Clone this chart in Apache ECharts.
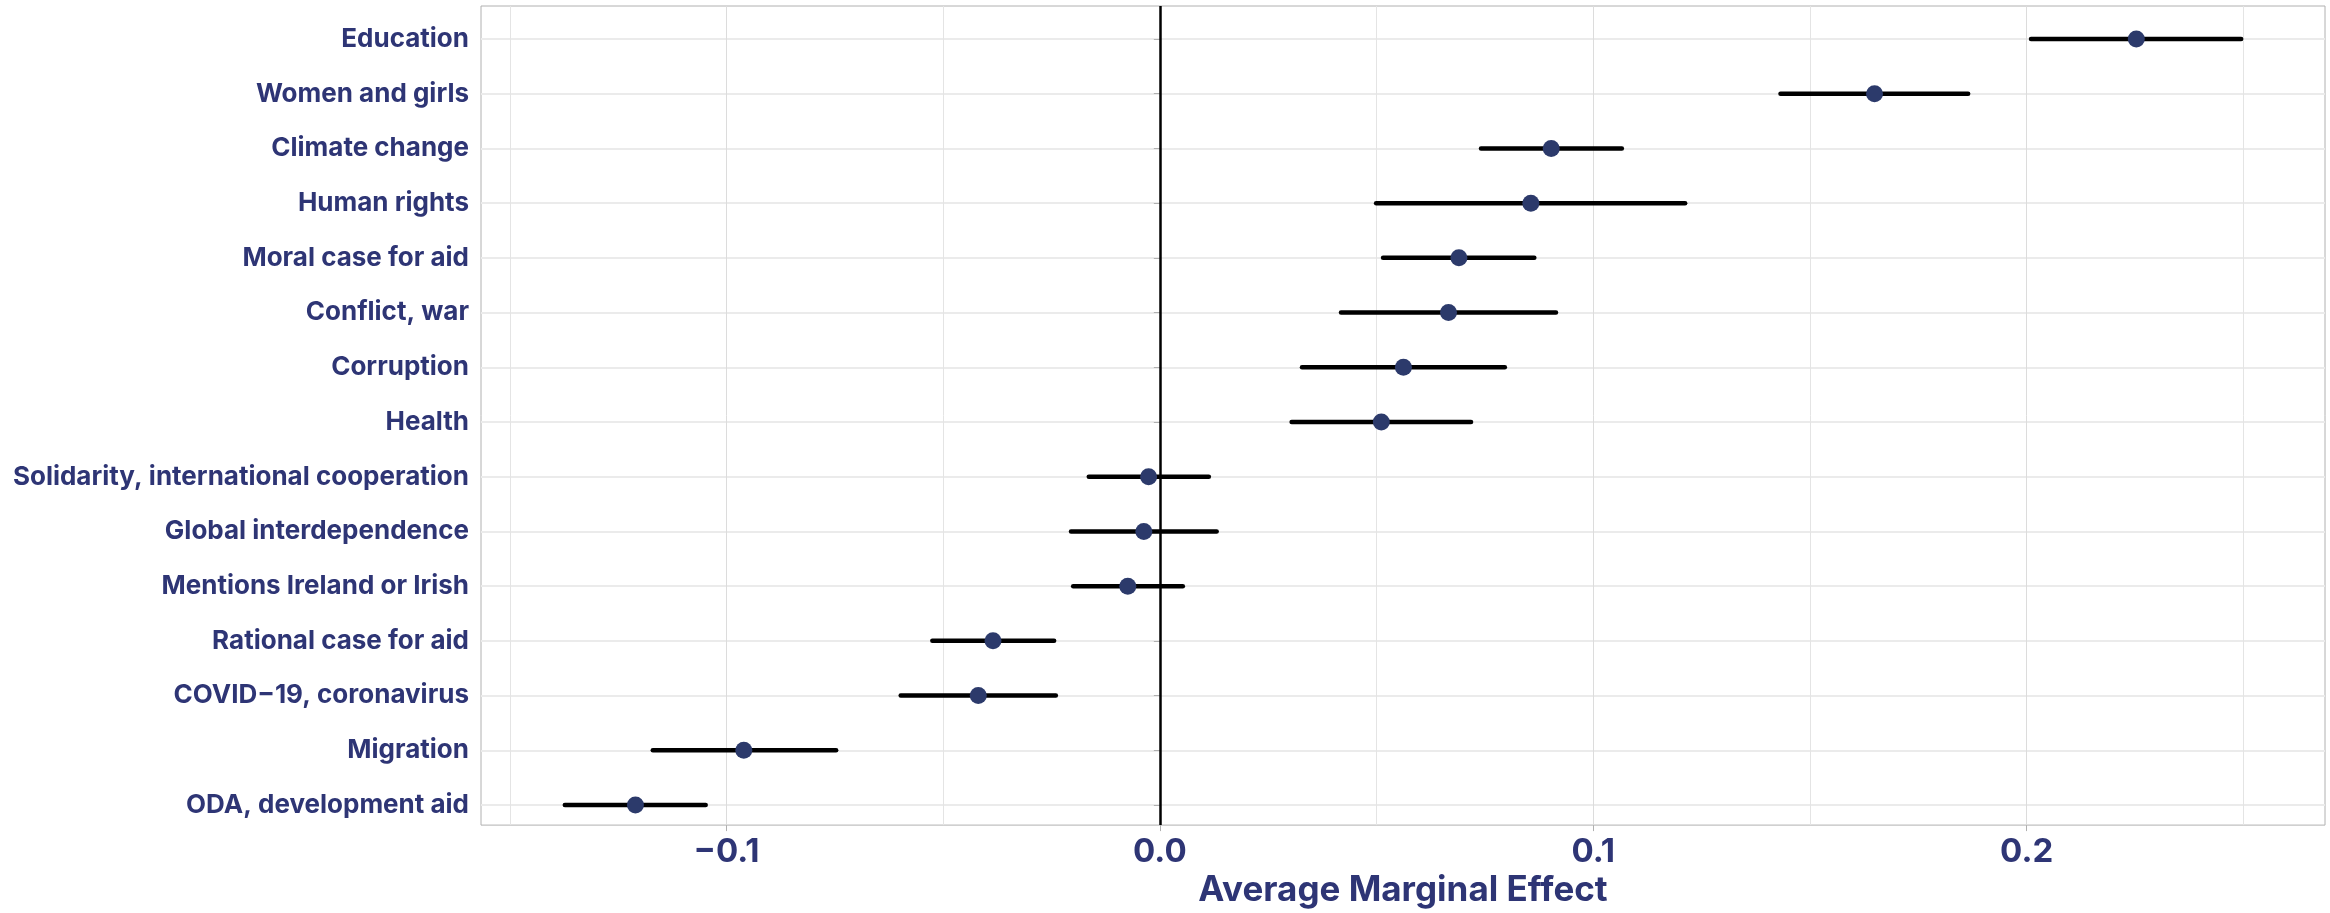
<!DOCTYPE html>
<html>
<head>
<meta charset="utf-8">
<title>Average Marginal Effect</title>
<script src="https://cdn.jsdelivr.net/npm/echarts@6/dist/echarts.min.js"></script>
<style>
  html, body { margin: 0; padding: 0; background: #ffffff; }
  #chart { width: 2330px; height: 913px; }
</style>
</head>
<body>
<div id="chart"></div>
<script>
// Topics, top to bottom
const topics = [
  'Education',
  'Women and girls',
  'Climate change',
  'Human rights',
  'Moral case for aid',
  'Conflict, war',
  'Corruption',
  'Health',
  'Solidarity, international cooperation',
  'Global interdependence',
  'Mentions Ireland or Irish',
  'Rational case for aid',
  'COVID\u221219, coronavirus',
  'Migration',
  'ODA, development aid'
]

// Average marginal effect and its interval
const estimate = [0.2253, 0.1649, 0.0903, 0.0856, 0.0690, 0.0666, 0.0562, 0.0511,
  -0.0026, -0.0037, -0.0074, -0.0385, -0.0419, -0.0960, -0.1210]
const lower = [0.2010, 0.1432, 0.0741, 0.0499, 0.0515, 0.0418, 0.0328, 0.0304,
  -0.0164, -0.0205, -0.0200, -0.0525, -0.0598, -0.1170, -0.1373]
const upper = [0.2495, 0.1865, 0.1066, 0.1212, 0.0864, 0.0914, 0.0796, 0.0718,
  0.0113, 0.0131, 0.0053, -0.0244, -0.0240, -0.0747, -0.1048]

// x axis ticks
const majorTicks = [-0.1, 0, 0.1, 0.2]
const minorTicks = [-0.15, -0.05, 0.05, 0.15, 0.25]

// x range with ggplot's 5% padding
const span = Math.max(...upper) - Math.min(...lower)
const xMin = Math.min(...lower) - span * 0.05
const xMax = Math.max(...upper) + span * 0.05

const navy = '#2e3575'
const dotColor = '#2c3a6b'
const font = 'Inter, "Open Sans", sans-serif'

const chart = echarts.init(document.getElementById('chart'))

const option = {
  backgroundColor: '#ffffff',
  animation: false,
  grid: [
    // panel (border + vertical grid lines)
    { left: 481, top: 6, width: 1844, height: 832, show: true, borderColor: '#b0b0b0', borderWidth: 1, backgroundColor: '#ffffff' },
    // rows
    { left: 481, top: 39, width: 1844, height: 766 }
  ],
  xAxis: [
    {
      type: 'value', gridIndex: 0, min: xMin, max: xMax,
      axisLine: { show: false },
      axisTick: { show: true, length: 6, lineStyle: { color: '#b0b0b0' }, customValues: majorTicks },
      axisLabel: {
        customValues: majorTicks,
        color: navy, fontFamily: font, fontWeight: 700, fontSize: 33, margin: 10,
        formatter: v => v.toFixed(1).replace('-', '\u2212')
      },
      splitLine: { show: true, lineStyle: { color: '#dcdcdc', width: 1 } },
      name: 'Average Marginal Effect',
      nameLocation: 'middle',
      nameGap: 46,
      nameTextStyle: { color: navy, fontFamily: font, fontWeight: 700, fontSize: 35 }
    },
    {
      // minor grid lines
      type: 'value', gridIndex: 0, min: xMin, max: xMax,
      axisLine: { show: false },
      axisTick: { show: false, customValues: minorTicks },
      axisLabel: { show: false },
      splitLine: { show: true, lineStyle: { color: '#e4e4e4', width: 1 } }
    },
    {
      type: 'value', gridIndex: 1, min: xMin, max: xMax, show: false
    }
  ],
  yAxis: [
    { type: 'value', gridIndex: 0, min: 0, max: 1, show: false },
    {
      type: 'category', gridIndex: 1, data: topics, inverse: true, boundaryGap: false,
      axisLine: { show: false },
      axisTick: { show: true, length: 6, lineStyle: { color: '#b0b0b0' } },
      axisLabel: { color: navy, fontFamily: font, fontWeight: 700, fontSize: 26, margin: 12 },
      splitLine: { show: true, lineStyle: { color: '#ebebeb', width: 2 } }
    }
  ],
  series: [
    {
      // zero reference line across the whole panel
      type: 'scatter', xAxisIndex: 0, yAxisIndex: 0, data: [], silent: true,
      markLine: {
        silent: true, symbol: 'none', label: { show: false },
        lineStyle: { color: '#000000', width: 2.5, type: 'solid' },
        data: [{ xAxis: 0 }]
      }
    },
    {
      // interval bars
      type: 'custom', xAxisIndex: 2, yAxisIndex: 1, z: 3,
      data: topics.map((t, i) => [lower[i], upper[i], i]),
      encode: { x: [0, 1], y: 2 },
      renderItem: (params, api) => {
        const a = api.coord([api.value(0), api.value(2)])
        const b = api.coord([api.value(1), api.value(2)])
        return {
          type: 'line',
          shape: { x1: a[0], y1: a[1], x2: b[0], y2: b[1] },
          style: { stroke: '#000000', lineWidth: 4.5, lineCap: 'round' }
        }
      }
    },
    {
      type: 'scatter', xAxisIndex: 2, yAxisIndex: 1, z: 4,
      data: topics.map((t, i) => [estimate[i], i]),
      symbol: 'circle', symbolSize: 17,
      itemStyle: { color: dotColor, opacity: 1 }
    }
  ]
}

chart.setOption(option)
</script>
</body>
</html>
